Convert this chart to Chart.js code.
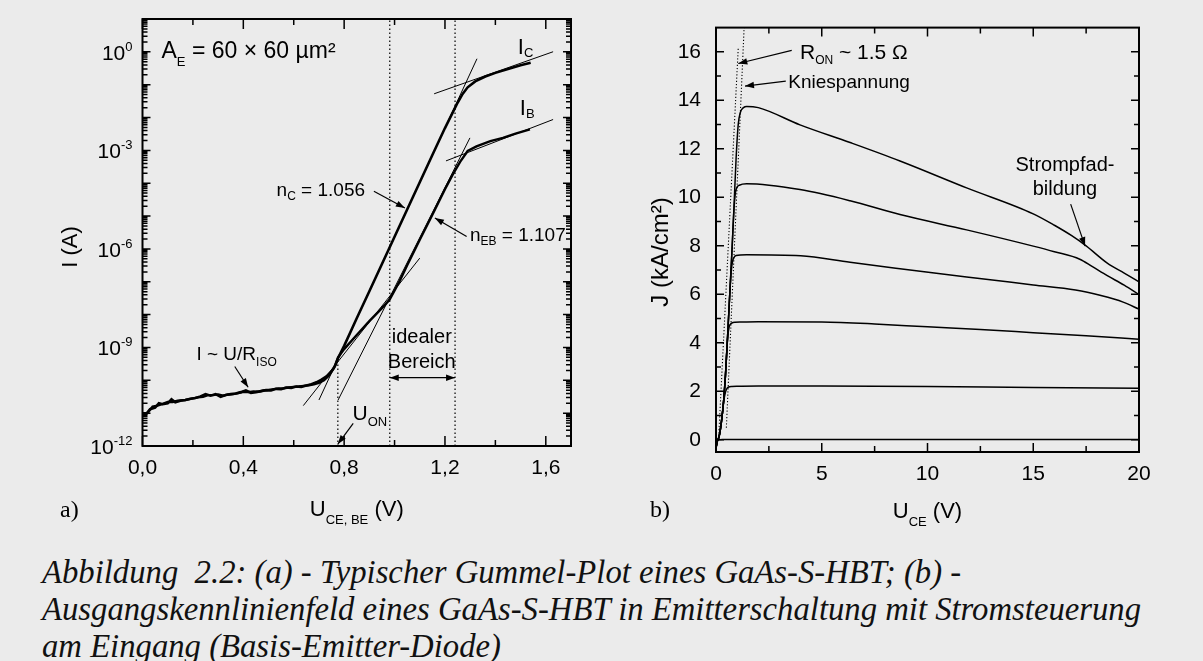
<!DOCTYPE html>
<html><head><meta charset="utf-8">
<script src="https://cdn.jsdelivr.net/npm/chart.js@4.4.0/dist/chart.umd.min.js"></script>
<style>
html,body{margin:0;padding:0;background:#ebebeb;width:1203px;height:661px;overflow:hidden;}
#c1{position:absolute;left:0;top:0;}
#c2{position:absolute;left:600px;top:0;}
#cap{position:absolute;left:42px;top:554px;font-family:"Liberation Serif","Times New Roman",serif;font-style:italic;line-height:37px;color:#111;white-space:nowrap;}
</style></head><body>
<canvas id="c1" width="600" height="530"></canvas>
<canvas id="c2" width="603" height="530"></canvas>
<div id="cap">
<div>Abbildung&nbsp; 2.2: (a) - Typischer Gummel-Plot eines GaAs-S-HBT; (b) -</div>
<div id="capLine2">Ausgangskennlinienfeld eines GaAs-S-HBT in Emitterschaltung mit Stromsteuerung</div>
<div>am Eingang (Basis-Emitter-Diode)</div>
</div>
<script>
// ---------------- (a) Gummel plot data: U in V, log10(I/A) ----------------
const icV   = [0,0.015,0.03,0.05,0.065,0.08,0.10,0.115,0.13,0.15,0.17,0.19,0.21,0.23,0.25,0.27,0.29,0.31,0.33,0.35,0.37,0.39,0.41,0.43,0.45,0.47,0.49,0.51,0.53,0.55,0.57,0.59,0.61,0.63,0.65,0.67,0.69,0.71,0.73,0.75,0.765,0.776,0.80,0.85,0.90,0.95,1.00,1.05,1.10,1.15,1.20,1.23,1.25,1.27,1.29,1.32,1.36,1.40,1.46,1.50,1.54];
const icLog = [-11.03,-11.02,-10.88,-10.83,-10.70,-10.73,-10.70,-10.58,-10.67,-10.62,-10.60,-10.56,-10.54,-10.49,-10.42,-10.47,-10.42,-10.50,-10.45,-10.42,-10.40,-10.36,-10.31,-10.38,-10.36,-10.33,-10.30,-10.31,-10.26,-10.27,-10.22,-10.23,-10.19,-10.20,-10.16,-10.12,-10.06,-9.98,-9.88,-9.72,-9.55,-9.32,-8.95,-8.11,-7.29,-6.46,-5.63,-4.80,-3.97,-3.14,-2.32,-1.86,-1.55,-1.28,-1.08,-0.90,-0.75,-0.64,-0.50,-0.41,-0.33];
const ibV   = [0,0.02,0.04,0.06,0.08,0.10,0.12,0.14,0.17,0.20,0.22,0.24,0.26,0.28,0.30,0.32,0.34,0.36,0.38,0.40,0.42,0.44,0.46,0.48,0.50,0.52,0.54,0.56,0.58,0.60,0.62,0.64,0.66,0.68,0.70,0.72,0.74,0.76,0.776,0.80,0.85,0.90,0.95,0.98,1.02,1.05,1.10,1.15,1.20,1.23,1.26,1.29,1.325,1.38,1.43,1.48,1.537];
const ibLog = [-11.00,-11.00,-10.80,-10.77,-10.72,-10.66,-10.66,-10.62,-10.60,-10.55,-10.52,-10.50,-10.45,-10.45,-10.43,-10.47,-10.43,-10.42,-10.39,-10.35,-10.36,-10.34,-10.35,-10.31,-10.29,-10.27,-10.25,-10.24,-10.22,-10.20,-10.19,-10.17,-10.15,-10.12,-10.08,-10.00,-9.85,-9.62,-9.30,-9.05,-8.62,-8.20,-7.80,-7.55,-6.98,-6.50,-5.72,-4.96,-4.18,-3.75,-3.35,-3.02,-2.88,-2.72,-2.62,-2.49,-2.36];
// tangent lines (two end points each)
const tanIcIdealV = [0.70, 1.327],  tanIcIdealLog = [-10.60, -0.21];
const tanIbIdealV = [0.776, 1.299], tanIbIdealLog = [-10.60, -2.62];
const tanIbLowV   = [0.638, 1.100], tanIbLowLog   = [-10.77, -6.28];
const tanIcSatV   = [1.157, 1.629], tanIcSatLog   = [-1.277, 0.003];
const tanIbSatV   = [1.204, 1.629], tanIbSatLog   = [-3.32, -2.06];
// dotted markers
const uOnV = 0.775, uOnTopLog = -9.30;
const idealRangeV = [0.981, 1.240];
const gummelXTicks = [0, 0.4, 0.8, 1.2, 1.6];
const gummelXMinor = [0.2, 0.6, 1.0, 1.4];
const gummelYLabelExp = [-12, -9, -6, -3, 0];

// ---------------- (b) output characteristics: U_CE in V, J in kA/cm² ----------------
const j0V = [0, 0.05, 0.10, 0.30, 20];
const j0J = [-0.35, -0.10, 0.0, 0.02, 0.02];
const j1V = [0, 0.05, 0.15, 0.25, 0.35, 0.45, 0.52, 0.60, 0.75, 1.0, 2, 5, 10, 15, 20];
const j1J = [-0.35, -0.10, 0.15, 0.70, 1.50, 1.98, 2.12, 2.18, 2.20, 2.21, 2.22, 2.22, 2.20, 2.16, 2.13];
const j2V = [0, 0.05, 0.15, 0.25, 0.35, 0.45, 0.55, 0.62, 0.68, 0.75, 0.9, 1.2, 2, 5, 7.5, 10, 12.5, 15, 17.5, 20];
const j2J = [-0.35, -0.10, 0.15, 0.70, 1.50, 2.70, 4.20, 4.65, 4.77, 4.82, 4.85, 4.86, 4.87, 4.86, 4.78, 4.66, 4.55, 4.42, 4.29, 4.15];
const j3V = [0, 0.05, 0.15, 0.25, 0.35, 0.45, 0.55, 0.65, 0.72, 0.78, 0.85, 0.95, 1.45, 4, 6.34, 8.7, 11.85, 15, 17, 18.2, 19.25, 20];
const j3J = [-0.35, -0.10, 0.15, 0.70, 1.50, 2.70, 4.30, 6.00, 6.95, 7.35, 7.52, 7.60, 7.63, 7.59, 7.32, 7.06, 6.72, 6.39, 6.18, 5.95, 5.68, 5.39];
const j4V = [0, 0.05, 0.15, 0.25, 0.35, 0.45, 0.55, 0.65, 0.75, 0.85, 0.92, 1.0, 1.1, 1.45, 3.97, 6.34, 8.7, 11.85, 15, 16, 17.2, 17.8, 18.5, 19.3, 20];
const j4J = [-0.35, -0.10, 0.15, 0.70, 1.50, 2.70, 4.30, 6.00, 7.70, 9.50, 10.20, 10.42, 10.50, 10.56, 10.32, 9.86, 9.29, 8.66, 7.99, 7.76, 7.45, 7.14, 6.77, 6.38, 5.99];
const j5V = [0, 0.05, 0.15, 0.25, 0.35, 0.45, 0.55, 0.65, 0.75, 0.85, 0.95, 1.05, 1.15, 1.3, 1.45, 2, 3.97, 6.34, 8.7, 11.85, 15, 16, 16.8, 17.5, 18.5, 19.3, 20];
const j5J = [-0.35, -0.10, 0.15, 0.70, 1.50, 2.70, 4.30, 6.00, 7.70, 9.60, 11.60, 13.00, 13.50, 13.70, 13.75, 13.70, 12.99, 12.26, 11.50, 10.39, 9.32, 8.85, 8.43, 8.00, 7.29, 6.88, 6.52];
const rOnV = [0.12, 1.054], rOnJ = [0, 16.2];
const kneeV = [0.49, 1.33], kneeJ = [0.5, 17.0];
const outXTicks = [0, 5, 10, 15, 20];
const outXMinor = [2.5, 7.5, 12.5, 17.5];
const outYTicks = [0, 2, 4, 6, 8, 10, 12, 14, 16];
const outYMinor = [1, 3, 5, 7, 9, 11, 13, 15];

// ---------------- helpers ----------------
const SANS = '"Liberation Sans", Arimo, Arial, Helvetica, sans-serif';
const SERIF = '"Liberation Serif", "Times New Roman", serif';
function rich(ctx, x, y, parts, size, align, opt) {
  opt = opt || {};
  const ss = opt.small || size * 0.6;
  const subDy = opt.subDy != null ? opt.subDy : size * 0.3;
  const supDy = opt.supDy != null ? opt.supDy : -size * 0.45;
  let w = 0; const segs = [];
  for (const [t, m] of parts) {
    const s = m ? ss : size;
    ctx.font = s + 'px ' + SANS;
    const tw = ctx.measureText(t).width;
    segs.push({t, m, s, tw}); w += tw;
  }
  let cx = align === 'center' ? x - w / 2 : align === 'right' ? x - w : x;
  ctx.textAlign = 'left'; ctx.textBaseline = 'alphabetic';
  for (const g of segs) {
    ctx.font = g.s + 'px ' + SANS;
    const dy = g.m === 'sub' ? subDy : g.m === 'sup' ? supDy : 0;
    ctx.fillText(g.t, cx, y + dy);
    cx += g.tw;
  }
}
function arrow(ctx, x1, y1, x2, y2, both) {
  ctx.beginPath(); ctx.moveTo(x1, y1); ctx.lineTo(x2, y2); ctx.stroke();
  const head = (xa, ya, xb, yb) => {
    const a = Math.atan2(yb - ya, xb - xa), L = 9, W = 3.2;
    const bx = xb - L * Math.cos(a), by = yb - L * Math.sin(a);
    ctx.beginPath(); ctx.moveTo(xb, yb);
    ctx.lineTo(bx - W * Math.sin(a), by + W * Math.cos(a));
    ctx.lineTo(bx + W * Math.sin(a), by - W * Math.cos(a));
    ctx.closePath(); ctx.fill();
  };
  head(x1, y1, x2, y2);
  if (both) head(x2, y2, x1, y1);
}
function boxTicks(chart, s) {
  const {ctx, chartArea: a} = chart, x = chart.scales.x, y = chart.scales.y;
  ctx.save(); ctx.strokeStyle = '#000'; ctx.lineWidth = 1.5;
  ctx.beginPath();
  const t = (x1, y1, x2, y2) => { ctx.moveTo(x1, y1); ctx.lineTo(x2, y2); };
  const xt = (vals, L) => vals.forEach(v => { const p = x.getPixelForValue(v); t(p, a.bottom, p, a.bottom - L); t(p, a.top, p, a.top + L); });
  const yt = (vals, L) => vals.forEach(v => { const p = y.getPixelForValue(v); t(a.left, p, a.left + L, p); t(a.right, p, a.right - L, p); });
  xt(s.xMaj, s.xMajL); xt(s.xMin, s.xMinL); yt(s.yMaj, s.yMajL); yt(s.yMin, s.yMinL);
  ctx.stroke();
  ctx.lineWidth = 2; ctx.strokeRect(a.left, a.top, a.right - a.left, a.bottom - a.top);
  ctx.restore();
}
const line = (xs, ys, w, dash, f, interp) => ({
  data: xs.map((v, i) => ({x: v, y: f ? f(ys[i]) : ys[i]})),
  borderColor: '#000', borderWidth: w, borderDash: dash || [], pointRadius: 0,
  showLine: true, fill: false, tension: 0, cubicInterpolationMode: interp || 'default'
});
const pow10 = v => Math.pow(10, v);
const base = {
  responsive: false, animation: false, events: [],
  plugins: {legend: {display: false}, tooltip: {enabled: false}},
};

// ---------------- chart (a) ----------------
const yMajorA = [], yMinorA = [];
for (let n = -12; n <= 1; n++) { yMajorA.push(pow10(n)); if (n < 1) for (let k = 2; k <= 9; k++) yMinorA.push(k * pow10(n)); }

const gummelPlugin = {
  id: 'gummel',
  afterDatasetsDraw(chart) {
    boxTicks(chart, {xMaj: gummelXTicks, xMajL: 10, xMin: gummelXMinor, xMinL: 6, yMaj: yMajorA, yMajL: 8, yMin: yMinorA, yMinL: 5});
  },
  afterDraw(chart) {
    const {ctx, chartArea: a} = chart, x = chart.scales.x, y = chart.scales.y;
    const X = v => x.getPixelForValue(v), Y = l => y.getPixelForValue(pow10(l));
    ctx.save(); ctx.fillStyle = '#000'; ctx.strokeStyle = '#000'; ctx.lineWidth = 1.2;
    // y tick labels 10^n
    gummelYLabelExp.forEach(n => {
      const p = Y(n);
      rich(ctx, a.left - 10, p + 8, [['10', ''], [n === 0 ? '0' : '-' + Math.abs(n), 'sup']], 21, 'right', {small: 13, supDy: -9});
    });
    // annotations
    rich(ctx, X(0.0754), Y(-0.18), [['A', ''], ['E', 'sub'], [' = 60 × 60 µm²', '']], 23, 'left', {small: 13, subDy: 8});
    rich(ctx, X(1.489), Y(-0.08), [['I', ''], ['C', 'sub']], 22, 'left', {small: 13, subDy: 3});
    rich(ctx, X(1.497), Y(-1.91), [['I', ''], ['B', 'sub']], 22, 'left', {small: 13, subDy: 3});
    rich(ctx, X(0.532), Y(-4.40), [['n', ''], ['C', 'sub'], [' = 1.056', '']], 19, 'left', {small: 12, subDy: 4});
    arrow(ctx, X(0.918), Y(-4.247), X(1.041), Y(-4.753));
    rich(ctx, X(1.299), Y(-5.77), [['n', ''], ['EB', 'sub'], [' = 1.107', '']], 19, 'left', {small: 12, subDy: 4});
    arrow(ctx, X(1.286), Y(-5.62), X(1.160), Y(-5.06));
    ctx.font = '20px ' + SANS; ctx.textAlign = 'center';
    ctx.fillText('idealer', X(1.108), Y(-8.87));
    ctx.fillText('Bereich', X(1.108), Y(-9.63));
    arrow(ctx, X(idealRangeV[0]), Y(-9.92), X(idealRangeV[1]), Y(-9.92), true);
    rich(ctx, X(0.833), Y(-11.21), [['U', ''], ['ON', 'sub']], 21, 'left', {small: 13, subDy: 6});
    arrow(ctx, X(0.836), Y(-11.31), X(0.775), Y(-11.94));
    rich(ctx, X(0.214), Y(-9.38), [['I ~ U/R', ''], ['ISO', 'sub']], 19, 'left', {small: 12, subDy: 6});
    arrow(ctx, X(0.366), Y(-9.58), X(0.419), Y(-10.21));
    // axis titles
    ctx.save(); ctx.translate(77, 247); ctx.rotate(-Math.PI / 2);
    ctx.font = '22px ' + SANS; ctx.textAlign = 'center'; ctx.fillText('I (A)', 0, 0); ctx.restore();
    rich(ctx, (a.left + a.right) / 2, 516, [['U', ''], ['CE, BE', 'sub'], [' (V)', '']], 22, 'center', {small: 13, subDy: 8});
    ctx.font = '24px ' + SERIF; ctx.textAlign = 'left'; ctx.fillText('a)', 60, 517);
    ctx.restore();
  }
};

new Chart(document.getElementById('c1'), {
  type: 'scatter',
  data: {datasets: [
    line([uOnV, uOnV], [-12, uOnTopLog], 1.2, [1.5, 2.5], pow10),
    line([idealRangeV[0], idealRangeV[0]], [-12, 1], 1.2, [1.5, 2.5], pow10),
    line([idealRangeV[1], idealRangeV[1]], [-12, 1], 1.2, [1.5, 2.5], pow10),
    line(tanIcIdealV, tanIcIdealLog, 1, null, pow10),
    line(tanIbIdealV, tanIbIdealLog, 1, null, pow10),
    line(tanIbLowV, tanIbLowLog, 1, null, pow10),
    line(tanIcSatV, tanIcSatLog, 1, null, pow10),
    line(tanIbSatV, tanIbSatLog, 1, null, pow10),
    line(ibV, ibLog, 2.4, null, pow10),
    line(icV, icLog, 2.6, null, pow10),
  ]},
  options: Object.assign({}, base, {
    layout: {padding: {top: 19, left: 0, right: 29, bottom: 0}},
    scales: {
      x: {type: 'linear', min: 0, max: 1.7, position: 'bottom',
        grid: {display: false, drawTicks: false}, border: {display: false},
        afterBuildTicks: s => { s.ticks = gummelXTicks.map(v => ({value: v})); },
        afterFit: s => { s.height = 84; },
        ticks: {color: '#000', font: {family: SANS, size: 21}, padding: 10, autoSkip: false, maxRotation: 0,
          callback: v => Number(v).toFixed(1).replace('.', ',')}},
      y: {type: 'logarithmic', min: 1e-12, max: 10,
        grid: {display: false, drawTicks: false}, border: {display: false},
        afterFit: s => { s.width = 142.5; },
        ticks: {display: false}}
    }
  }),
  plugins: [gummelPlugin]
});

// ---------------- chart (b) ----------------
const outPlugin = {
  id: 'out',
  afterDatasetsDraw(chart) {
    boxTicks(chart, {xMaj: outXTicks, xMajL: 9, xMin: outXMinor, xMinL: 6, yMaj: outYTicks, yMajL: 8, yMin: outYMinor, yMinL: 5});
  },
  afterDraw(chart) {
    const {ctx, chartArea: a} = chart, x = chart.scales.x, y = chart.scales.y;
    const X = v => x.getPixelForValue(v), Y = v => y.getPixelForValue(v);
    ctx.save(); ctx.fillStyle = '#000'; ctx.strokeStyle = '#000'; ctx.lineWidth = 1.2;
    rich(ctx, X(3.97), Y(15.72), [['R', ''], ['ON', 'sub'], [' ~ 1.5 Ω', '']], 21, 'left', {small: 12, subDy: 5});
    arrow(ctx, X(3.58), Y(16.06), X(1.054), Y(15.52));
    ctx.font = '19px ' + SANS; ctx.textAlign = 'left';
    ctx.fillText('Kniespannung', X(3.42), Y(14.52));
    arrow(ctx, X(3.30), Y(14.79), X(1.371), Y(14.59));
    ctx.font = '20px ' + SANS; ctx.textAlign = 'center';
    ctx.fillText('Strompfad-', X(16.5), Y(11.07));
    ctx.fillText('bildung', X(16.5), Y(10.10));
    arrow(ctx, X(16.77), Y(9.72), X(17.45), Y(7.99));
    ctx.save(); ctx.translate(68, 252); ctx.rotate(-Math.PI / 2);
    ctx.font = '24px ' + SANS; ctx.textAlign = 'center'; ctx.fillText('J (kA/cm²)', 0, 0); ctx.restore();
    rich(ctx, (a.left + a.right) / 2, 518, [['U', ''], ['CE', 'sub'], [' (V)', '']], 22, 'center', {small: 13, subDy: 8});
    ctx.font = '24px ' + SERIF; ctx.textAlign = 'left'; ctx.fillText('b)', 50, 517);
    ctx.restore();
  }
};

new Chart(document.getElementById('c2'), {
  type: 'scatter',
  data: {datasets: [
    line(rOnV, rOnJ, 1.1, [1.2, 2], null),
    line(kneeV, kneeJ, 1.1, [1.2, 2], null),
    line(j0V, j0J, 1.5, null, null, 'monotone'),
    line(j1V, j1J, 1.5, null, null, 'monotone'),
    line(j2V, j2J, 1.5, null, null, 'monotone'),
    line(j3V, j3J, 1.5, null, null, 'monotone'),
    line(j4V, j4J, 1.5, null, null, 'monotone'),
    line(j5V, j5J, 1.5, null, null, 'monotone'),
  ]},
  options: Object.assign({}, base, {
    layout: {padding: {top: 16, left: 0, right: 64, bottom: 0}},
    scales: {
      x: {type: 'linear', min: 0, max: 20, position: 'bottom',
        grid: {display: false, drawTicks: false}, border: {display: false},
        afterBuildTicks: s => { s.ticks = outXTicks.map(v => ({value: v})); },
        afterFit: s => { s.height = 78; },
        ticks: {color: '#000', font: {family: SANS, size: 21}, padding: 10, autoSkip: false, maxRotation: 0}},
      y: {type: 'linear', min: -0.5, max: 17,
        grid: {display: false, drawTicks: false}, border: {display: false},
        afterBuildTicks: s => { s.ticks = outYTicks.map(v => ({value: v})); },
        afterFit: s => { s.width = 116; },
        ticks: {color: '#000', font: {family: SANS, size: 21}, padding: 15, autoSkip: false}}
    }
  }),
  plugins: [outPlugin]
});

// caption font size fitted to the reference line width
(function () {
  const c = document.createElement('canvas').getContext('2d');
  c.font = 'italic 100px ' + SERIF;
  const w = c.measureText(document.getElementById('capLine2').textContent).width;
  document.getElementById('cap').style.fontSize = (100 * 1100 / w).toFixed(2) + 'px';
})();
</script>
</body></html>
